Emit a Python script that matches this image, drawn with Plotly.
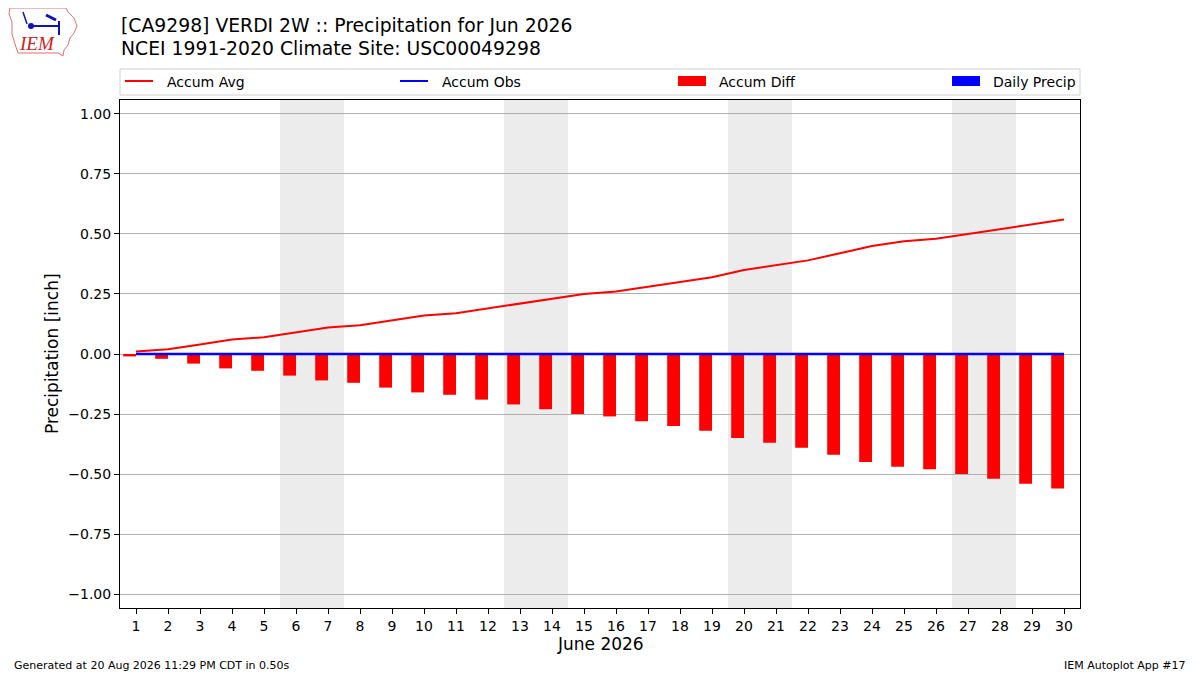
import datetime
import plotly.graph_objects as go

# June 2026 daily values (inches)
days = list(range(1, 31))
accum_avg = [0.01, 0.02, 0.04, 0.06, 0.07, 0.09, 0.11, 0.12, 0.14, 0.16,
             0.17, 0.19, 0.21, 0.23, 0.25, 0.26, 0.28, 0.30, 0.32, 0.35,
             0.37, 0.39, 0.42, 0.45, 0.47, 0.48, 0.50, 0.52, 0.54, 0.56]
accum_obs = [0.00, 0.00, 0.00, 0.00, 0.00, 0.00, 0.00, 0.00, 0.00, 0.00,
             0.00, 0.00, 0.00, 0.00, 0.00, 0.00, 0.00, 0.00, 0.00, 0.00,
             0.00, 0.00, 0.00, 0.00, 0.00, 0.00, 0.00, 0.00, 0.00, 0.00]
accum_diff = [-0.01, -0.02, -0.04, -0.06, -0.07, -0.09, -0.11, -0.12, -0.14, -0.16,
              -0.17, -0.19, -0.21, -0.23, -0.25, -0.26, -0.28, -0.30, -0.32, -0.35,
              -0.37, -0.39, -0.42, -0.45, -0.47, -0.48, -0.50, -0.52, -0.54, -0.56]
daily_precip = [0.00, 0.00, 0.00, 0.00, 0.00, 0.00, 0.00, 0.00, 0.00, 0.00,
                0.00, 0.00, 0.00, 0.00, 0.00, 0.00, 0.00, 0.00, 0.00, 0.00,
                0.00, 0.00, 0.00, 0.00, 0.00, 0.00, 0.00, 0.00, 0.00, 0.00]
ytick_vals = [-1.0, -0.75, -0.5, -0.25, 0.0, 0.25, 0.5, 0.75, 1.0]

title1 = "[CA9298] VERDI 2W :: Precipitation for Jun 2026"
title2 = "NCEI 1991-2020 Climate Site: USC00049298"
footer_left = "Generated at 20 Aug 2026 11:29 PM CDT in 0.50s"
footer_right = "IEM Autoplot App #17"

FONT = "DejaVu Sans"
# page body has an 8px margin, so the figure is a bit smaller than the window
W, H = 1192, 667
L, R, T, B = 112, 120, 92, 67


# window pixel -> paper helpers (for the decorations outside the plot)
def px(x):
    return (x - 120) / 960


def py(y):
    return (608 - y) / 508


fig = go.Figure()
fig.add_trace(go.Bar(x=days, y=accum_diff, width=0.4, offset=-0.4,
                     marker=dict(color="#ff0000", line_width=0), name="Accum Diff"))
fig.add_trace(go.Bar(x=days, y=daily_precip, width=0.4, offset=-0.4,
                     marker=dict(color="#0000ff", line_width=0), name="Daily Precip"))
fig.add_trace(go.Scatter(x=days, y=accum_avg, mode="lines",
                         line=dict(color="#ff0000", width=2), name="Accum Avg"))
fig.add_trace(go.Scatter(x=days, y=accum_obs, mode="lines",
                         line=dict(color="#0000ff", width=2.5), name="Accum Obs"))

# weekend shading
for d in days:
    if datetime.date(2026, 6, d).weekday() >= 5:
        fig.add_vrect(x0=d - 0.5, x1=d + 0.5, fillcolor="#ececec",
                      line_width=0, layer="below")

fig.update_layout(
    width=W, height=H,
    margin=dict(l=L, r=R, t=T, b=B),
    paper_bgcolor="white", plot_bgcolor="white",
    showlegend=False, barmode="overlay",
    font=dict(family=FONT, size=14, color="black"),
)
fig.update_xaxes(range=[0.5, 30.5], tickvals=days, ticks="outside", ticklen=5,
                 tickcolor="black", showline=True, linecolor="black", linewidth=1,
                 mirror=True, showgrid=False, zeroline=False,
                 tickfont=dict(size=14))
fig.update_yaxes(range=[-1.058, 1.058], tickvals=ytick_vals, tickformat=".2f",
                 ticks="outside", ticklen=5, tickcolor="black", showline=True,
                 linecolor="black", linewidth=1, mirror=True, showgrid=True,
                 gridcolor="#b0b0b0", gridwidth=1, zeroline=False,
                 tickfont=dict(size=14))

ann = []
ann.append(dict(text=title1, x=px(119), y=py(13), xref="paper", yref="paper",
                xanchor="left", yanchor="top", showarrow=False, font=dict(size=18.8)))
ann.append(dict(text=title2, x=px(119), y=py(36), xref="paper", yref="paper",
                xanchor="left", yanchor="top", showarrow=False, font=dict(size=18.8)))
ann.append(dict(text="June 2026", x=0.5, y=py(644), xref="paper", yref="paper",
                xanchor="center", yanchor="middle", showarrow=False, font=dict(size=17)))
ann.append(dict(text="Precipitation [inch]", x=px(52), y=py(354), xref="paper",
                yref="paper", xanchor="center", yanchor="middle", textangle=-90,
                showarrow=False, font=dict(size=17)))
ann.append(dict(text=footer_left, x=px(12), y=py(665), xref="paper", yref="paper",
                xanchor="left", yanchor="middle", showarrow=False, font=dict(size=11)))
ann.append(dict(text=footer_right, x=px(1188), y=py(665), xref="paper", yref="paper",
                xanchor="right", yanchor="middle", showarrow=False, font=dict(size=11)))

shapes = []
# legend box
shapes.append(dict(type="rect", xref="paper", yref="paper", x0=px(120), x1=px(1080),
                   y0=py(95), y1=py(69), line=dict(color="#d0d0d0", width=1),
                   fillcolor="white"))
legend_items = [
    ("Accum Avg", "line", "#ff0000", 125, 165),
    ("Accum Obs", "line", "#0000ff", 400, 440),
    ("Accum Diff", "rect", "#ff0000", 678, 717),
    ("Daily Precip", "rect", "#0000ff", 952, 991),
]
for label, kind, color, x0, tx in legend_items:
    if kind == "line":
        shapes.append(dict(type="line", xref="paper", yref="paper", x0=px(x0),
                           x1=px(x0 + 28), y0=py(81), y1=py(81),
                           line=dict(color=color, width=2)))
    else:
        shapes.append(dict(type="rect", xref="paper", yref="paper", x0=px(x0),
                           x1=px(x0 + 28), y0=py(86), y1=py(76), line_width=0,
                           fillcolor=color))
    ann.append(dict(text=label, x=px(tx), y=py(81.5), xref="paper", yref="paper",
                    xanchor="left", yanchor="middle", showarrow=False,
                    font=dict(size=14)))

# IEM logo (rough sketch): state outline, symbol, text
outline = [(10, 8), (66, 8), (68, 12), (74, 18), (77, 26), (74, 33), (70, 38),
           (68, 45), (64, 50), (63, 56), (58, 53), (18, 53), (15, 44), (12, 34),
           (12, 22), (9, 14)]
path = "M " + " L ".join(f"{px(a):.5f},{py(b):.5f}" for a, b in outline) + " Z"
shapes.append(dict(type="path", path=path, xref="paper", yref="paper",
                   line=dict(color="#e07070", width=1)))
shapes.append(dict(type="line", xref="paper", yref="paper", x0=px(29), x1=px(60),
                   y0=py(26), y1=py(26), line=dict(color="#1010c0", width=2)))
shapes.append(dict(type="line", xref="paper", yref="paper", x0=px(59), x1=px(59),
                   y0=py(21), y1=py(35), line=dict(color="#1010c0", width=2)))
shapes.append(dict(type="line", xref="paper", yref="paper", x0=px(46), x1=px(56),
                   y0=py(15), y1=py(20), line=dict(color="#1010c0", width=3)))
shapes.append(dict(type="line", xref="paper", yref="paper", x0=px(23), x1=px(27),
                   y0=py(12), y1=py(24), line=dict(color="#1010c0", width=1.5)))
shapes.append(dict(type="circle", xref="paper", yref="paper", x0=px(28), x1=px(34),
                   y0=py(29), y1=py(23), fillcolor="#1010c0", line_width=0))
ann.append(dict(text="<i>IEM</i>", x=px(37), y=py(44), xref="paper", yref="paper",
                xanchor="center", yanchor="middle", showarrow=False,
                font=dict(family="Liberation Serif", size=19, color="#d02020")))

fig.update_layout(annotations=ann, shapes=list(fig.layout.shapes) + shapes)

fig.write_html("out.html")
